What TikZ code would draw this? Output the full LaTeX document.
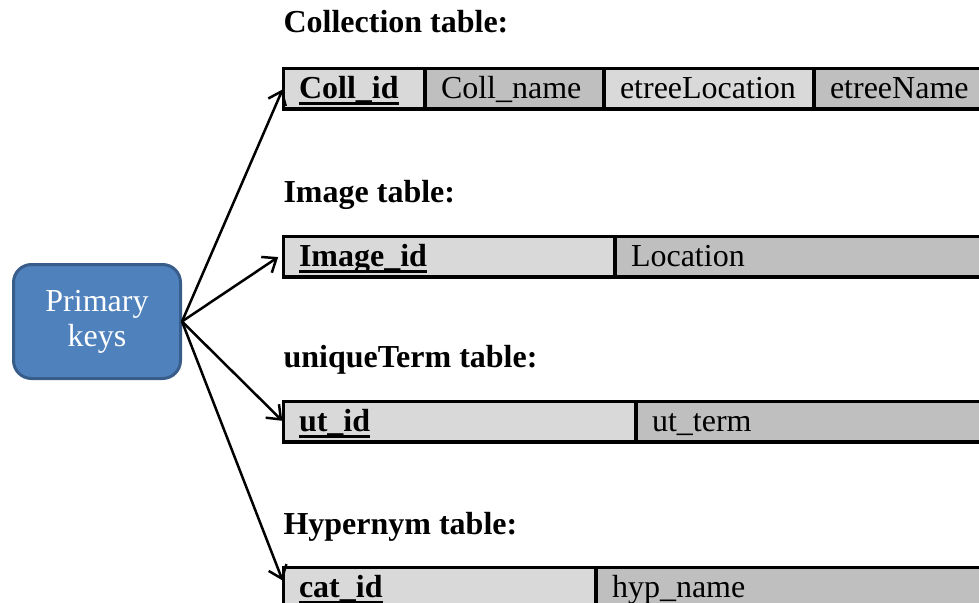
\documentclass[tikz,border=0pt]{standalone}
\usepackage{fontspec}
\setmainfont{Liberation Serif}
\usetikzlibrary{positioning,arrows.meta}

\definecolor{keyblue}{HTML}{4F81BD}
\definecolor{keyedge}{HTML}{385D8A}
\definecolor{celllight}{HTML}{D9D9D9}
\definecolor{celldark}{HTML}{BFBFBF}

% bold key name with a heavy underline
\newsavebox{\pkeybox}
\newcommand{\pkey}[1]{\leavevmode\sbox{\pkeybox}{\bfseries #1}%
  \rlap{\rule[-7pt]{\wd\pkeybox}{3pt}}\usebox{\pkeybox}}

\tikzset{
  cell/.style={draw, line width=2pt, inner xsep=15pt, inner ysep=0pt,
    text height=29pt, text depth=10pt, align=left,
    font=\fontsize{32}{36}\selectfont},
  light/.style={cell, fill=celllight},
  dark/.style={cell, fill=celldark},
  title/.style={anchor=base west, font=\fontsize{32}{36}\selectfont\bfseries},
  link/.style={line width=2.5pt, shorten >=1pt,
    -{Straight Barb[length=12pt,width=19pt]}},
}

\begin{document}
\begin{tikzpicture}[x=1pt,y=-1pt]
    \useasboundingbox (0,0) rectangle (979,602);
    \clip (0,0) rectangle (979,602);

    % Table titles
    \node [title] (colltitle) at (280,33) {Collection table:};
    \node [title] (imagetitle) at (280,202) {Image table:};
    \node [title] (uttitle) at (280,367) {uniqueTerm table:};
    \node [title] (hyptitle) at (280,534) {Hypernym table:};

    % Collection table
    \node [light, text width=110pt, anchor=north west] (coll) at (283,68) {\pkey{Coll\_id}};
    \node [dark, text width=147pt, right=0pt of coll] (collname) {Coll\_name};
    \node [light, text width=178pt, right=0pt of collname] (etreeloc) {etreeLocation};
    \node [dark, text width=138pt, right=0pt of etreeloc] (etreename) {etreeName};
    \node [light, text width=40pt, right=0pt of etreename] (collrest) {};
    \draw [line width=3pt] (coll.north west) rectangle (collrest.south east);

    % Image table
    \node [light, text width=300pt, anchor=north west] (image) at (283,236) {\pkey{Image\_id}};
    \node [dark, text width=400pt, right=0pt of image] (location) {Location};
    \draw [line width=3pt] (image.north west) rectangle (location.south east);

    % uniqueTerm table
    \node [light, text width=321pt, anchor=north west] (ut) at (283,401) {\pkey{ut\_id}};
    \node [dark, text width=400pt, right=0pt of ut] (utterm) {ut\_term};
    \draw [line width=3pt] (ut.north west) rectangle (utterm.south east);

    % Hypernym table
    \node [light, text width=281pt, anchor=north west] (cat) at (283,567) {\pkey{cat\_id}};
    \node [dark, text width=400pt, right=0pt of cat] (hypname) {hyp\_name};
    \draw [line width=3pt] (cat.north west) rectangle (hypname.south east);

    % Key box and its links
    \node [draw=keyedge, fill=keyblue, line width=3pt, rounded corners=18pt,
        minimum width=167pt, minimum height=114pt, text=white, align=center,
        font=\fontsize{32}{35}\selectfont] (pk) at (97,321.5) {Primary\\keys};
    \draw [link] (pk.east) -- (coll.west);
    \draw [link] (pk.east) -- ([xshift=-4pt]image.west);
    \draw [link] (pk.east) -- (ut.west);
    \draw [link] (pk.east) -- ([yshift=6pt]cat.west);
\end{tikzpicture}
\end{document}
